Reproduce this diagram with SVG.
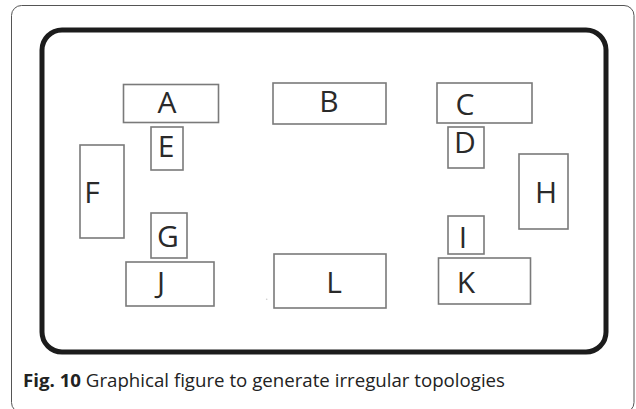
<svg xmlns="http://www.w3.org/2000/svg" width="636" height="409" viewBox="0 0 636 409">
<style>
.box{fill:#fff;stroke:#7a7a7a;stroke-width:1.6}
.lbl{font-family:"Open Sans","Liberation Sans",sans-serif;font-size:30px;fill:#2a2a2a;text-anchor:middle}
.cap{font-family:"Open Sans","Liberation Sans",sans-serif;font-size:18px;fill:#222}
</style>
<rect width="636" height="409" fill="#fff"/>
<rect x="11.5" y="5.5" width="622.5" height="407" rx="10" fill="none" stroke="#555" stroke-width="1"/>
<rect x="42" y="30" width="564" height="322" rx="20" fill="none" stroke="#1c1c1c" stroke-width="5"/>
<g id="connectors"></g>
<g id="A"><rect class="box" x="123.5" y="84.5" width="95" height="38"/><text class="lbl" x="167" y="112.7">A</text></g>
<g id="B"><rect class="box" x="273" y="83" width="113" height="41"/><text class="lbl" x="329" y="111.7">B</text></g>
<g id="C"><rect class="box" x="437" y="83" width="95" height="40"/><text class="lbl" x="465" y="115">C</text></g>
<g id="D"><rect class="box" x="448" y="127" width="36" height="41"/><text class="lbl" x="465" y="153.3">D</text></g>
<g id="E"><rect class="box" x="151" y="127" width="32" height="43"/><text class="lbl" x="166" y="157.3">E</text></g>
<g id="F"><rect class="box" x="80" y="145" width="44" height="93"/><text class="lbl" x="92" y="202.7">F</text></g>
<g id="G"><rect class="box" x="151" y="213" width="36" height="45"/><text class="lbl" x="168" y="247.3">G</text></g>
<g id="H"><rect class="box" x="519" y="154" width="49" height="75"/><text class="lbl" x="546" y="202.7">H</text></g>
<g id="I"><rect class="box" x="448" y="216" width="36" height="38"/><text class="lbl" x="463" y="248.3">I</text></g>
<g id="J"><rect class="box" x="126" y="262" width="88" height="44"/><text class="lbl" x="161" y="292.7">J</text></g>
<g id="K"><rect class="box" x="438.5" y="258" width="92" height="46"/><text class="lbl" x="466" y="293.3">K</text></g>
<g id="L"><rect class="box" x="274" y="254" width="112" height="54"/><text class="lbl" x="334" y="292.7">L</text></g>
<circle cx="266.7" cy="299.3" r="0.8" fill="#ccc"/>
<text class="cap" x="23" y="387" textLength="482" lengthAdjust="spacingAndGlyphs"><tspan font-weight="bold">Fig. 10</tspan> Graphical figure to generate irregular topologies</text>
</svg>
